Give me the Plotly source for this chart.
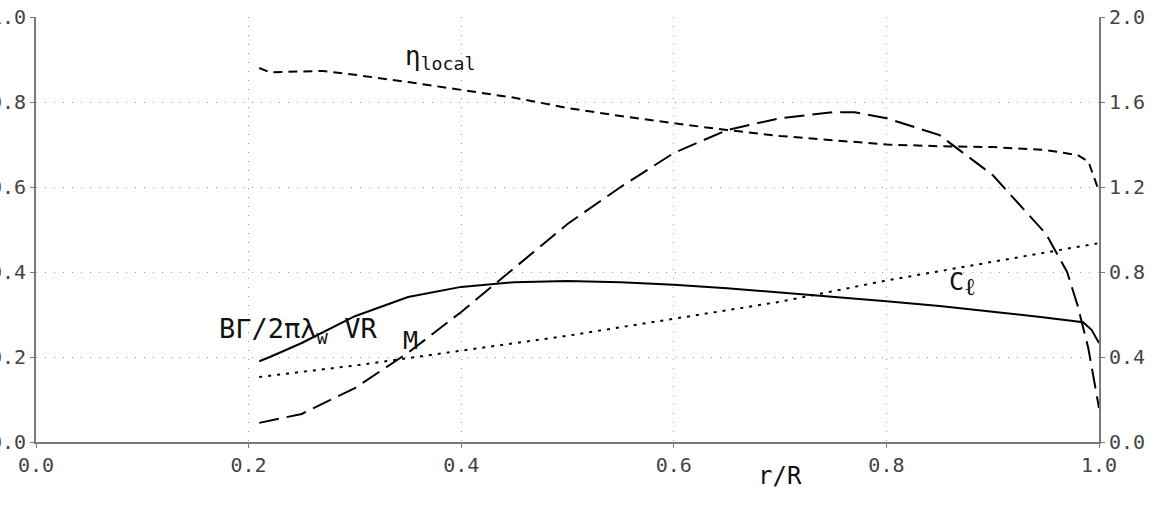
import plotly.graph_objects as go

# ---- data ----
r_eta = [0.21, 0.22, 0.27, 0.30, 0.35, 0.40, 0.45, 0.50, 0.55, 0.60, 0.65, 0.70, 0.75, 0.80, 0.85, 0.90, 0.95, 0.98, 0.99, 1.00]
eta_local = [0.880, 0.870, 0.873, 0.864, 0.847, 0.828, 0.810, 0.786, 0.767, 0.750, 0.734, 0.720, 0.710, 0.700, 0.696, 0.694, 0.687, 0.675, 0.660, 0.590]

r_m = [0.21, 0.25, 0.30, 0.35, 0.40, 0.45, 0.50, 0.55, 0.60, 0.65, 0.70, 0.75, 0.77, 0.80, 0.85, 0.90, 0.95, 0.97, 0.98, 0.99, 1.00]
mach = [0.045, 0.066, 0.127, 0.210, 0.306, 0.410, 0.513, 0.600, 0.680, 0.734, 0.762, 0.776, 0.776, 0.762, 0.722, 0.628, 0.490, 0.400, 0.320, 0.220, 0.080]

r_g = [0.21, 0.22, 0.25, 0.30, 0.35, 0.40, 0.45, 0.50, 0.55, 0.60, 0.65, 0.70, 0.75, 0.80, 0.85, 0.90, 0.945, 0.985, 0.993, 1.00]
gamma = [0.190, 0.200, 0.233, 0.296, 0.341, 0.365, 0.376, 0.379, 0.376, 0.370, 0.362, 0.352, 0.342, 0.331, 0.320, 0.307, 0.294, 0.282, 0.264, 0.233]

r_cl = [0.21, 0.30, 0.40, 0.50, 0.60, 0.70, 0.80, 0.90, 1.00]
cl = [0.306, 0.360, 0.430, 0.500, 0.580, 0.660, 0.760, 0.848, 0.936]

x_ticks = [0.0, 0.2, 0.4, 0.6, 0.8, 1.0]
y_ticks = [0.0, 0.2, 0.4, 0.6, 0.8, 1.0]
y2_ticks = [0.0, 0.4, 0.8, 1.2, 1.6, 2.0]

FONT = "DejaVu Sans Mono"
AX = "#7a7a7a"
GRID = "#9a9a9a"

fig = go.Figure()
fig.add_trace(go.Scatter(x=r_eta, y=eta_local, mode="lines",
                         line=dict(color="black", width=2, dash="9px,6px")))
fig.add_trace(go.Scatter(x=r_m, y=mach, mode="lines",
                         line=dict(color="black", width=2, dash="20px,8px")))
fig.add_trace(go.Scatter(x=r_g, y=gamma, mode="lines",
                         line=dict(color="black", width=2)))
fig.add_trace(go.Scatter(x=r_cl, y=cl, mode="lines", yaxis="y2",
                         line=dict(color="black", width=2, dash="3px,6px")))

ann_font = dict(family=FONT, color="#111")
fig.add_annotation(x=0.38, y=0.905, text="η<sub>local</sub>", showarrow=False,
                   font=dict(size=26, **ann_font))
fig.add_annotation(x=0.246, y=0.262, text="BΓ/2πλ<sub>w</sub> VR", showarrow=False,
                   font=dict(size=27, **ann_font))
fig.add_annotation(x=0.352, y=0.24, text="M", showarrow=False,
                   font=dict(size=25, **ann_font))
fig.add_annotation(x=0.872, y=0.372,
                   text="C<sub><span style='font-size:24px'>ℓ</span></sub>",
                   showarrow=False, font=dict(size=25, **ann_font))
fig.add_annotation(x=0.7, y=-0.118, yref="paper", text="r/R", showarrow=False,
                   font=dict(size=24, **ann_font))

common = dict(showline=True, linecolor=AX, linewidth=2,
              ticks="outside", ticklen=4, tickcolor=AX,
              zeroline=False, automargin=False)
grid = dict(showgrid=True, gridcolor=GRID, griddash="1px,8px", gridwidth=1)

fig.update_layout(
    width=1159, height=508,
    margin=dict(l=36, r=60, t=17, b=66),
    paper_bgcolor="white", plot_bgcolor="white",
    showlegend=False,
    font=dict(family=FONT, size=20, color="#444"),
    xaxis=dict(range=[0, 1], tickvals=x_ticks, tickformat=".1f", **common, **grid),
    yaxis=dict(range=[0, 1], tickvals=y_ticks, tickformat=".1f", **common, **grid),
    yaxis2=dict(range=[0, 2], tickvals=y2_ticks, tickformat=".1f",
                overlaying="y", side="right", showgrid=False, **common),
)

fig.write_html("out.html")
